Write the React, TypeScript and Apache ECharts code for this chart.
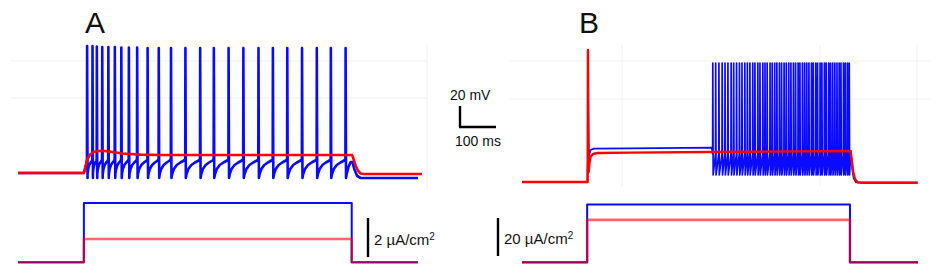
import React, { useEffect, useRef } from "react";
import * as echarts from "echarts";

// ---------- Panel A : membrane potential (ms, mV) ----------
const A_SPIKE_TIMES = [192, 207, 219, 234, 251, 269, 287, 308, 331, 360, 391, 425, 465, 506, 544, 585, 626, 668, 708, 748, 789, 830, 869, 910];
const A_SPIKE_PEAKS = [62, 62, 61.5, 61, 61, 61, 60.5, 60.5, 60.5, 60, 60, 60, 60, 60, 60, 60, 60, 60, 60, 60, 60, 60, 60, 60];
const A_TROUGH = -70;
const A_PRE_SPIKE = -51;
// recovery after each spike: [fraction of inter-spike interval, mV]
const A_RECOVERY: number[][] = [[0.08, -66], [0.2, -61], [0.4, -57], [0.65, -54.5], [0.9, -52.5]];
const A_BLUE_PRE: number[][] = [[0, -65], [183, -65], [186, -61], [189.5, -56]];
const A_BLUE_POST: number[][] = [[913, -66], [918, -59], [924, -54], [929, -54], [934, -61], [942, -68], [952, -70], [1111, -70]];
const A_RED: number[][] = [[0, -65], [183, -65], [187, -59], [193, -51], [200, -46.5], [210, -44], [222, -43], [236, -42.7], [255, -43.6], [290, -45.5], [340, -46.6], [400, -47], [928, -47], [932, -51], [938, -58], [945, -63], [952, -65.5], [960, -66], [1122, -66]];

// ---------- Panel B : membrane potential (ms, mV) ----------
const B_BURST_TIMES = [530, 538, 547, 556, 564, 572, 581, 588, 596, 604, 611, 619, 626, 633, 641, 647, 655, 661, 669, 675, 681, 689, 695, 702, 708, 715, 721, 728, 734, 741, 747, 754, 760, 767, 772, 779, 785, 791, 797, 804, 809, 816, 821, 828, 833, 840, 845, 852, 857, 863, 869, 875, 881, 886, 893, 898, 904, 909];
const B_BURST_PEAK = 45;
const B_BURST_TROUGH = -67;
const B_PRE_SPIKE = -46;
const B_BLUE_PRE: number[][] = [[0, -74], [182, -74], [182.6, -55], [183.2, 58], [184.4, -20], [185.4, -56], [187, -47], [190, -42], [200, -40.6], [300, -40.3], [527, -39.7]];
const B_BLUE_POST: number[][] = [[912, -50], [914, -48], [917, -60], [921, -70], [928, -74.5], [1099, -74.5]];
const B_RED: number[][] = [[0, -74], [182, -74], [182.6, -55], [183.2, 58], [184.4, -20], [185.4, -64], [187, -56], [190, -49], [197, -46], [210, -45], [300, -44.6], [600, -43.8], [913, -43], [916, -52], [920, -64], [925, -71], [932, -74.2], [945, -74.7], [1099, -74.7]];

// ---------- Injected currents ----------
const A_I_TIMES = [0, 183, 927, 1111]; // start, on, off, end (ms)
const A_I_BLUE = 3.05; // µA/cm²
const A_I_RED = 1.2;
const B_I_TIMES = [0, 181, 911, 1100];
const B_I_BLUE = 30;
const B_I_RED = 22;

function buildA(): number[][] {
  const out: number[][] = [...A_BLUE_PRE];
  A_SPIKE_TIMES.forEach((t, i) => {
    out.push([t - 0.5, A_PRE_SPIKE]);
    out.push([t, A_SPIKE_PEAKS[i]]);
    out.push([t + 1.2, A_TROUGH]);
    const next = A_SPIKE_TIMES[i + 1];
    if (next !== undefined) {
      const isi = next - t;
      A_RECOVERY.forEach(([f, v]) => out.push([t + f * isi, v]));
    }
  });
  return out.concat(A_BLUE_POST);
}

function buildB(): number[][] {
  const out: number[][] = [...B_BLUE_PRE];
  B_BURST_TIMES.forEach((t) => {
    out.push([t - 0.5, B_PRE_SPIKE]);
    out.push([t, B_BURST_PEAK]);
    out.push([t + 1, B_BURST_TROUGH]);
  });
  return out.concat(B_BLUE_POST);
}

function step(times: number[], amp: number): number[][] {
  const [s, on, off, e] = times;
  return [[s, 0], [on, 0], [on, amp], [off, amp], [off, 0], [e, 0]];
}

const BLUE = "#0a0aff";
const RED = "#ff0000";
const FONT = "'Liberation Sans', Arial, Helvetica, sans-serif";
const GRIDC = "#f1f1f1";

export default function App() {
  const ref = useRef<HTMLDivElement>(null);
  useEffect(() => {
    if (!ref.current) return;
    const chart = echarts.init(ref.current, undefined, { renderer: "svg" });
    const hiddenX = (gi: number) => ({
      type: "value", gridIndex: gi, min: 0, max: 1125, show: false,
    });
    const hiddenY = (gi: number, min: number, max: number) => ({
      type: "value", gridIndex: gi, min, max, show: false,
    });
    const line = (xi: number, data: number[][], color: string, width: number, opacity = 1, z = 2) => ({
      type: "line", xAxisIndex: xi, yAxisIndex: xi, data, showSymbol: false, symbol: "none",
      lineStyle: { color, width, opacity, join: "round" }, z, silent: true,
    });
    const gl = (x1: number, y1: number, x2: number, y2: number) => ({
      type: "line", shape: { x1, y1, x2, y2 }, style: { stroke: GRIDC, lineWidth: 1 }, z: -10,
    });
    const bar = (x1: number, y1: number, x2: number, y2: number) => ({
      type: "line", shape: { x1, y1, x2, y2 }, style: { stroke: "#000", lineWidth: 2.4 },
    });
    const txt = (text: string, x: number, y: number, size: number) => ({
      type: "text", x, y,
      style: { text, fill: "#111", font: `${size}px ${FONT}`, align: "left", verticalAlign: "middle" },
    });
    const unitTxt = (value: string, x: number, y: number) => ({
      type: "text", x, y,
      style: {
        text: `{m|${value} µA/cm}{s|2}`,
        align: "left", verticalAlign: "middle",
        rich: {
          m: { fontSize: 15, fontFamily: FONT, fill: "#111", color: "#111", verticalAlign: "middle", lineHeight: 16 },
          s: { fontSize: 10, fontFamily: FONT, fill: "#111", color: "#111", verticalAlign: "top", lineHeight: 10 },
        },
      },
    });
    chart.setOption({
      animation: false,
      backgroundColor: "#ffffff",
      grid: [
        { left: 18, top: 40, width: 405, height: 150 },
        { left: 522, top: 40, width: 405, height: 150 },
        { left: 18, top: 194.25, width: 405, height: 78 },
        { left: 522, top: 194.75, width: 405, height: 78 },
      ],
      xAxis: [hiddenX(0), hiddenX(1), hiddenX(2), hiddenX(3)],
      yAxis: [hiddenY(0, -82, 68), hiddenY(1, -82, 68), hiddenY(2, -0.5, 3.5), hiddenY(3, -5, 35)],
      series: [
        line(0, buildA(), BLUE, 2.6),
        line(0, A_RED, RED, 2.6, 1, 3),
        line(1, buildB(), BLUE, 1.7),
        line(1, B_RED, RED, 2.4, 1, 3),
        line(2, step(A_I_TIMES, A_I_BLUE), BLUE, 2),
        line(2, step(A_I_TIMES, A_I_RED), RED, 2.6, 0.6, 3),
        line(3, step(B_I_TIMES, B_I_BLUE), BLUE, 2),
        line(3, step(B_I_TIMES, B_I_RED), RED, 2.6, 0.6, 3),
      ],
      graphic: [
        gl(10, 61, 427, 61), gl(10, 98, 427, 98), gl(427, 45, 427, 190),
        gl(510, 61, 930, 61), gl(510, 99, 930, 99),
        gl(622, 45, 622, 186), gl(820, 45, 820, 186), gl(917, 45, 917, 186),
        txt("A", 85, 22, 30),
        txt("B", 579, 22, 30),
        bar(460, 106, 460, 127), bar(459, 127, 496, 127),
        txt("20 mV", 450, 95, 14),
        txt("100 ms", 455, 141, 14),
        bar(368, 218, 368, 257),
        unitTxt("2", 374, 239),
        bar(498, 218, 498, 256),
        unitTxt("20", 504, 238),
      ],
    });
    return () => chart.dispose();
  }, []);
  return (
    <div
      ref={ref}
      style={{ position: "fixed", left: 0, top: 0, width: 935, height: 272, background: "#fff" }}
    />
  );
}
